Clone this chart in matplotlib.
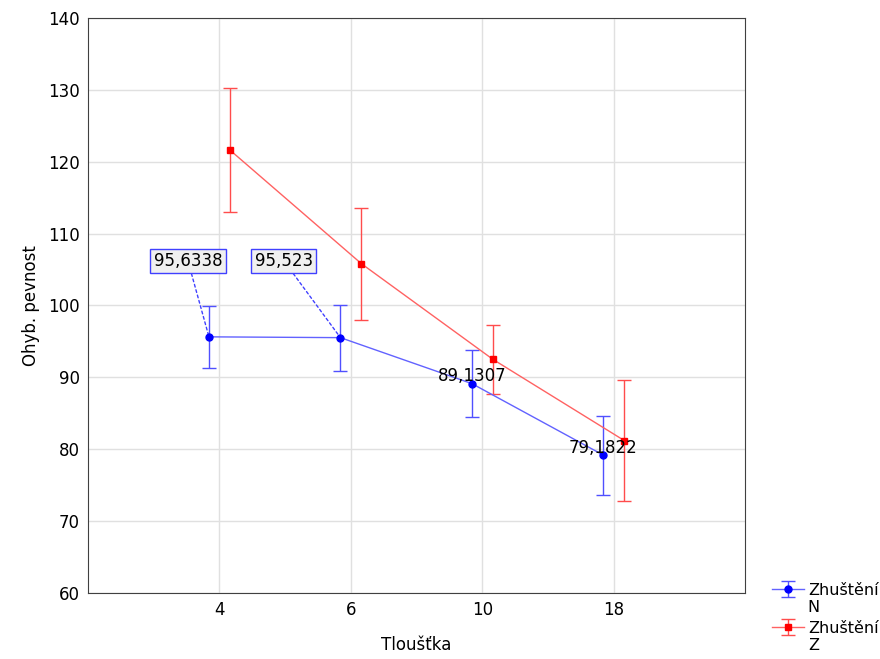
import numpy as np
import matplotlib.pyplot as plt

plt.rcParams['font.family'] = ['DejaVu Sans']

# data
categories = ['4', '6', '10', '18']
n_mean = [95.6338, 95.523, 89.1307, 79.1822]
n_err = [4.3, 4.6, 4.7, 5.5]
z_mean = [121.6, 105.8, 92.5, 81.2]
z_err = [8.6, 7.8, 4.8, 8.4]
n_labels = ['95,6338', '95,523', '89,1307', '79,1822']

x = np.arange(len(categories))
off = 0.08

fig = plt.figure(figsize=(8.8, 6.59), dpi=100)
ax = fig.add_axes([0.1, 0.1, 0.747, 0.873])

eb_n = ax.errorbar(x - off, n_mean, yerr=n_err, color='#6262ff', ecolor='#5050ff',
                   elinewidth=1, capsize=5, capthick=1, lw=1, marker='o', ms=5,
                   mfc='blue', mec='blue', zorder=3)
eb_z = ax.errorbar(x + off, z_mean, yerr=z_err, color='#ff6262', ecolor='#ff4c4c',
                   elinewidth=1, capsize=5, capthick=1, lw=1, marker='s', ms=5,
                   mfc='red', mec='red', zorder=3)

# boxed labels for the first two N points
box = dict(boxstyle='square,pad=0.2', fc='#f0f0f0', ec='#4040ff', lw=1)
for i, dx in zip([0, 1], [-0.16, -0.43]):
    ax.annotate(n_labels[i], xy=(x[i] - off, n_mean[i]), xytext=(x[i] - off + dx, 106.2),
                ha='center', va='center', fontsize=12, bbox=box,
                arrowprops=dict(arrowstyle='-', ls=(0, (2, 2)), color='#4040ff', lw=1,
                                shrinkA=0, shrinkB=0))
for i in [2, 3]:
    ax.text(x[i] - off, n_mean[i] + 1.0, n_labels[i], ha='center', va='center',
            fontsize=12, zorder=4)

ax.set_xlim(-1, 4)
ax.set_ylim(60, 140)
ax.set_xticks(x)
ax.set_xticklabels(categories)
ax.set_yticks(np.arange(60, 141, 10))
ax.tick_params(length=0, labelsize=12, pad=6)
ax.grid(True, color='#e0e0e0', lw=1)
ax.set_axisbelow(True)
for s in ax.spines.values():
    s.set_color('#404040')
ax.set_xlabel('Tloušťka', fontsize=12, labelpad=12)
ax.set_ylabel('Ohyb. pevnost', fontsize=12, labelpad=6)

leg = fig.legend([eb_n, eb_z], ['Zhuštění', 'Zhuštění'], loc='upper left',
                 bbox_to_anchor=(0.868, 0.128), frameon=False, fontsize=11.5,
                 handlelength=2.0, handletextpad=0.25, labelspacing=1.45, borderpad=0)

# second line of each legend label
fig.canvas.draw()
inv = fig.transFigure.inverted()
for t, s in zip(leg.get_texts(), ['N', 'Z']):
    bb = t.get_window_extent()
    x0, y0 = inv.transform((bb.x0, bb.y0))
    fig.text(x0, y0 - 0.003, s, fontsize=11.5, ha='left', va='top')

fig.savefig('out.png', dpi=100)
